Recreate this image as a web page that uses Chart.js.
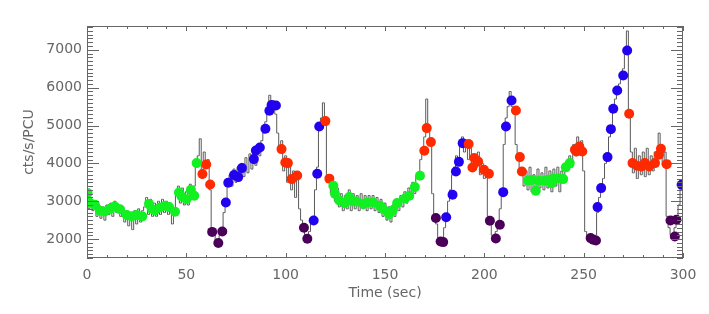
<!DOCTYPE html>
<html>
<head>
<meta charset="utf-8">
<script src="https://cdn.jsdelivr.net/npm/chart.js@4/dist/chart.umd.min.js"></script>
<style>
  body { margin: 0; background: #fff; }
  #wrap { width: 709px; height: 314px; }
</style>
</head>
<body>
<div id="wrap"><canvas id="lc"></canvas></div>
<script>
// light curve, 1 s bins
const rateTime = [];
for (let t = 0; t <= 300; t++) rateTime.push(t);
const rateCounts = [
  3150, 2800, 3050, 2750, 3000, 2600, 2900, 2550, 2850, 2500,
  2900, 2650, 2950, 2600, 3000, 2700, 2900, 2600, 2850, 2450,
  2750, 2350, 2700, 2250, 2750, 2400, 2800, 2450, 2750, 2850,
  3100, 2650, 3050, 2600, 2950, 2600, 3000, 2650, 3050, 2700,
  3000, 2650, 2950, 2400, 2800, 3200, 3400, 2950, 3350, 2900,
  3250, 2900, 3450, 3050, 3400, 3900, 4200, 4650, 3600, 4300,
  3900, 4100, 3300, 2200, 2150, 1950, 1900, 2100, 2250, 2700,
  3000, 3400, 3700, 3400, 3850, 3500, 3900, 3550, 4000, 3650,
  4150, 3750, 4250, 3850, 4350, 3950, 4500, 4200, 4600, 4800,
  5100, 5400, 5800, 5400, 5650, 5300, 4800, 4300, 4600, 3800,
  4200, 3500, 4100, 3300, 3800, 3100, 3700, 2800, 2500, 2300,
  2050, 2000, 2200, 2450, 2600, 3300, 3900, 5000, 5200, 5600,
  5200, 3700, 3550, 3200, 3500, 3000, 3350, 2850, 3200, 2750,
  3150, 2800, 3300, 2750, 3200, 2800, 3150, 2750, 3200, 2800,
  3150, 2750, 3150, 2800, 3150, 2750, 3100, 2700, 3050, 2600,
  2950, 2500, 2850, 2450, 2900, 2600, 3050, 2750, 3150, 2850,
  3250, 2950, 3350, 3050, 3500, 3200, 3650, 3700, 4100, 4400,
  4700, 5700, 4900, 4500, 3200, 2600, 2400, 2000, 1900, 1950,
  2300, 2600, 3000, 3300, 3700, 3900, 4200, 4000, 4500, 4700,
  4300, 4600, 4100, 4400, 3800, 4200, 3900, 4300, 3700, 4000,
  3600, 3800, 2600, 2400, 2100, 2000, 2200, 2400, 2800, 3300,
  4500, 5200, 5500, 5900, 5500, 5300, 4500, 4100, 3700, 3800,
  3400, 3800, 3300, 3900, 3250, 3700, 3300, 3850, 3350, 3750,
  3300, 3900, 3350, 3800, 3250, 3850, 3400, 3900, 3250, 3800,
  3550, 3900, 3800, 4200, 3900, 4500, 4200, 4700, 4300, 4600,
  3800, 2200, 2050, 2000, 1950, 1900, 2100, 2700, 3100, 3400,
  3600, 4000, 4200, 4700, 5000, 5400, 5700, 5900, 6100, 6300,
  6500, 6900, 7500, 5400, 4300, 3750, 4400, 3600, 4200, 3700,
  4300, 3650, 4400, 3700, 4200, 3800, 4300, 4200, 4800, 4400,
  3950, 4300, 2600, 2300, 2100, 2000, 2300, 2500, 2900, 3400,
  3300
];

// coloured state markers
const greenTime = [0.3, 1.3, 4, 6.5, 9, 11.6, 14, 16.6, 20, 22.5, 25, 27.8, 31.2, 32.5, 34.2, 36.7, 39.3, 41.3, 44.3, 46.3, 47.6, 50.1, 52.3, 54, 55.2,
  124, 124.8, 127, 129.8, 132, 133.5, 135.7, 139.1, 141, 144, 147.5, 149.1, 152, 153.8, 156.1, 160, 162.2, 165, 167.6,
  222, 224, 225.9, 227.6, 230.5, 232, 233.8, 234.6, 237.2, 239.7, 241, 243];
const greenRate = [3215, 2967, 2906, 2747, 2730, 2800, 2860, 2790, 2634, 2600, 2634, 2600, 2930, 2800, 2755, 2835, 2880, 2845, 2720, 3230, 3125, 3055, 3300, 3145, 4007,
  3408, 3197, 3020, 2950, 3110, 3000, 2993, 2930, 2967, 2967, 2880, 2792, 2660, 2755, 2950, 3073, 3145, 3373, 3672,
  3548, 3560, 3276, 3540, 3540, 3560, 3479, 3600, 3600, 3585, 3900, 4007];

const redTime = [58.1, 60, 62, 97.9, 99.8, 101.1, 103, 105.8, 120, 122, 169.8, 171, 173.1, 192.1, 194, 194.9, 196.9, 199.8, 202.3,
  215.9, 217.9, 218.9, 245.6, 246.4, 247.8, 249.3, 272.9, 274.6, 276.9, 279.1, 280.8, 283, 285.9, 287.9, 288.9, 291.8];
const redRate = [3720, 3970, 3440, 4377, 4023, 4007, 3585, 3680, 5117, 3597, 4332, 4932, 4562, 4510, 3890, 4140, 4050, 3830, 3725,
  5397, 4166, 3786, 4359, 4314, 4446, 4314, 5310, 4007, 3937, 3918, 4007, 3918, 4007, 4227, 4385, 3980];

const blueTime = [69.9, 71.1, 74, 76.1, 78, 84, 85, 87, 89.8, 91.8, 92.9, 95.1, 114.1, 115.9, 116.9, 180.8, 184, 185.7, 187.2, 189.1,
  209.5, 210.9, 213.7, 257, 258.8, 262, 263.7, 264.9, 266.9, 269.9, 271.9, 299.3];
const blueRate = [2967, 3487, 3690, 3637, 3875, 4113, 4340, 4420, 4913, 5389, 5540, 5530, 2491, 3725, 4975, 2575, 3170, 3786, 4040, 4535,
  3240, 4975, 5660, 2845, 3347, 4166, 4905, 5442, 5925, 6321, 6982, 3434];

const purpleTime = [63, 66.1, 68.1, 109.2, 110.9, 175.6, 178, 179.3, 202.8, 205.8, 207.8, 253.5, 254.8, 256.2, 293.7, 295.9, 296.7];
const purpleRate = [2190, 1894, 2200, 2298, 2008, 2555, 1937, 1920, 2483, 2016, 2378, 2026, 1982, 1963, 2491, 2070, 2510];

const xTicks = [0, 50, 100, 150, 200, 250, 300];
const yTicks = [2000, 3000, 4000, 5000, 6000, 7000];

const toPts = (xs, ys) => xs.map((x, i) => ({ x: x, y: ys[i] }));

const axisColor = "#666";
const textFont = "14px 'DejaVu Sans'";

// frame, inward ticks and labels in the IDL style
const idlAxes = {
  id: "idlAxes",
  afterDatasetsDraw(chart) {
    const c = chart.ctx;
    const a = chart.chartArea;
    const xs = chart.scales.x;
    const ys = chart.scales.y;
    c.save();
    c.strokeStyle = axisColor;
    c.lineWidth = 1;
    c.strokeRect(a.left + 0.5, a.top + 0.5, a.right - a.left - 1, a.bottom - a.top - 1);

    c.beginPath();
    for (let v = 0; v <= 300; v += 10) {
      const px = Math.round(xs.getPixelForValue(v)) + 0.5;
      const len = v % 50 === 0 ? 5 : 3;
      c.moveTo(px, a.bottom); c.lineTo(px, a.bottom - len);
      c.moveTo(px, a.top); c.lineTo(px, a.top + len);
    }
    for (let v = 1500; v <= 7600; v += 100) {
      const py = Math.round(ys.getPixelForValue(v)) + 0.5;
      const len = v % 1000 === 0 ? 12 : 6;
      c.moveTo(a.left, py); c.lineTo(a.left + len, py);
      c.moveTo(a.right, py); c.lineTo(a.right - len, py);
    }
    c.stroke();

    c.fillStyle = axisColor;
    c.font = textFont;
    c.textAlign = "center";
    c.textBaseline = "middle";
    xTicks.forEach(v => c.fillText(String(v), xs.getPixelForValue(v), a.bottom + 17));
    c.textAlign = "right";
    yTicks.forEach(v => c.fillText(String(v), a.left - 5, ys.getPixelForValue(v)));

    c.textAlign = "center";
    c.fillText("Time (sec)", (a.left + a.right) / 2, a.bottom + 35);
    c.translate(29, (a.top + a.bottom) / 2);
    c.rotate(-Math.PI / 2);
    c.fillText("cts/s/PCU", 0, 0);
    c.restore();
  }
};

const dotSet = (label, pts, color) => ({
  type: "scatter",
  label: label,
  data: pts,
  backgroundColor: color,
  borderWidth: 0,
  pointRadius: 5,
  order: 1
});

new Chart(document.getElementById("lc"), {
  type: "line",
  data: {
    datasets: [
      {
        label: "rate",
        data: toPts(rateTime, rateCounts),
        borderColor: "#5a5a5a",
        borderWidth: 1,
        stepped: "middle",
        pointRadius: 0,
        fill: false,
        order: 10
      },
      dotSet("green", toPts(greenTime, greenRate), "#11f020"),
      dotSet("red", toPts(redTime, redRate), "#ff2a00"),
      dotSet("blue", toPts(blueTime, blueRate), "#2200f0"),
      dotSet("purple", toPts(purpleTime, purpleRate), "#4a0058")
    ]
  },
  options: {
    responsive: true,
    maintainAspectRatio: false,
    animation: false,
    layout: { padding: { left: 87, right: 26, top: 26, bottom: 56 } },
    plugins: { legend: { display: false }, tooltip: { enabled: false } },
    scales: {
      x: { type: "linear", min: 0, max: 300, display: false },
      y: { type: "linear", min: 1500, max: 7630, display: false }
    }
  },
  plugins: [idlAxes]
});
</script>
</body>
</html>
